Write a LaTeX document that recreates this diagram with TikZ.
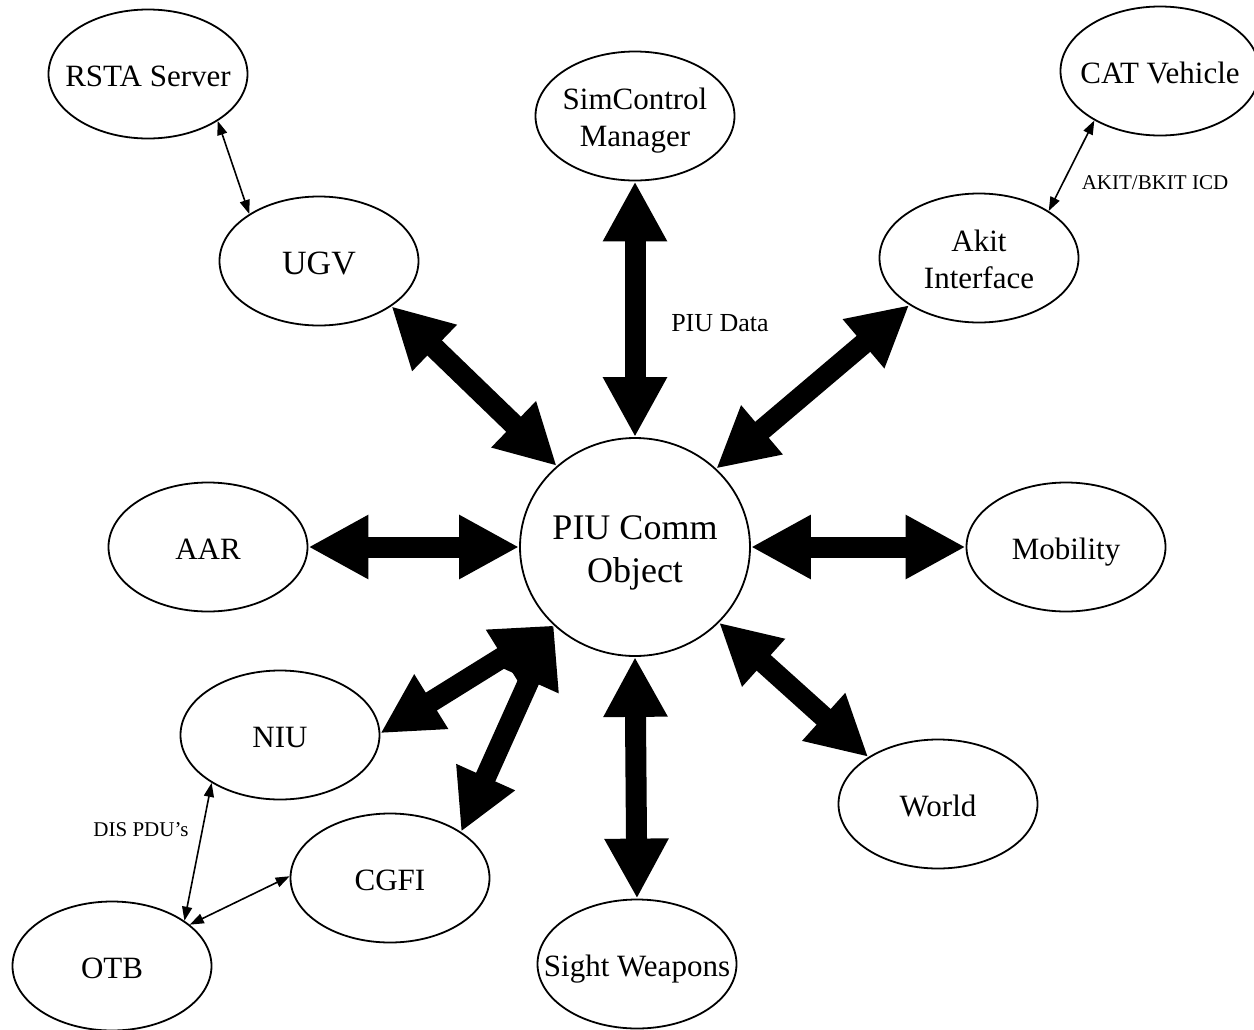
\documentclass[tikz,border=0pt]{standalone}
\usepackage{fontspec}
\setmainfont{Liberation Serif}
\usetikzlibrary{shapes.geometric,arrows.meta}
\newcommand{\ctext}[1]{\makebox[0pt][c]{\raisebox{-2.5pt}[\height][\depth]{\begin{tabular}{@{}c@{}}#1\end{tabular}}}}
\tikzset{
  ell/.style={draw, ellipse, line width=0.9pt, minimum width=99.5pt, minimum height=64.5pt, inner sep=0pt, font=\fontsize{15.5}{18.5}\selectfont},
  big/.style={line width=10.5pt, {Triangle[length=30pt,width=30pt]}-{Triangle[length=30pt,width=30pt]}},
  thin/.style={line width=0.8pt, {Triangle[length=7pt,width=5pt]}-{Triangle[length=7pt,width=5pt]}},
  small/.style={inner sep=0pt, font=\fontsize{10.5}{12}\selectfont}
}
\begin{document}
\begin{tikzpicture}[x=0.5pt,y=-0.5pt]
\fill[white] (0,0) rectangle (1254,1029);
\useasboundingbox (0,0) rectangle (1254,1029);
% nodes
\node[ell] (rsta)  at (148,74)  {\ctext{RSTA Server}};
\node[ell] (sim)   at (635,116) {\ctext{SimControl\\Manager}};
\node[ell] (cat)   at (1160,71) {\ctext{CAT Vehicle}};
\node[ell, font=\fontsize{17}{20}\selectfont] (ugv) at (319,261) {\ctext{UGV}};
\node[ell] (akit)  at (979,258) {\ctext{Akit\\Interface}};
\node[ell, minimum width=115pt, minimum height=109pt, font=\fontsize{18}{21.5}\selectfont] (piu) at (635,547) {\ctext{PIU Comm\\Object}};
\node[ell] (aar)   at (208,547) {\ctext{AAR}};
\node[ell] (mob)   at (1066,547) {\ctext{Mobility}};
\node[ell] (niu)   at (280,735) {\ctext{NIU}};
\node[ell] (world) at (938,804) {\ctext{World}};
\node[ell] (cgfi)  at (390,878) {\ctext{CGFI}};
\node[ell] (otb)   at (112,966) {\ctext{OTB}};
\node[ell] (sw)    at (637,964) {\ctext{Sight Weapons}};
% labels
\node[inner sep=0pt, font=\fontsize{13}{15}\selectfont] (piudata) at (720,323) {PIU Data};
\node[small] (icd) at (1155,183) {AKIT/BKIT ICD};
\node[small] (dis) at (141,830) {DIS PDU’s};
% thick connectors
\draw[big] (ugv.-32) -- (piu.134);
\draw[big] (sim.south) -- (piu.north);
\draw[big] (akit.214) -- (piu.44);
\draw[big] (aar.east) -- (piu.west);
\draw[big] (mob.west) -- (piu.east);
\draw[big] (niu.1) -- (piu.224);
\draw[big] (cgfi.33) -- (piu.224);
\draw[big] (sw.north) -- (piu.south);
\draw[big] (world.146) -- (piu.-42);
% thin connectors
\draw[thin] (rsta.-34) -- (ugv.146);
\draw[thin] (akit.34) -- (cat.-143);
\draw[thin] (niu.215) -- (otb.32);
\draw[thin] (otb.28) -- (cgfi.179);
\end{tikzpicture}
\end{document}
